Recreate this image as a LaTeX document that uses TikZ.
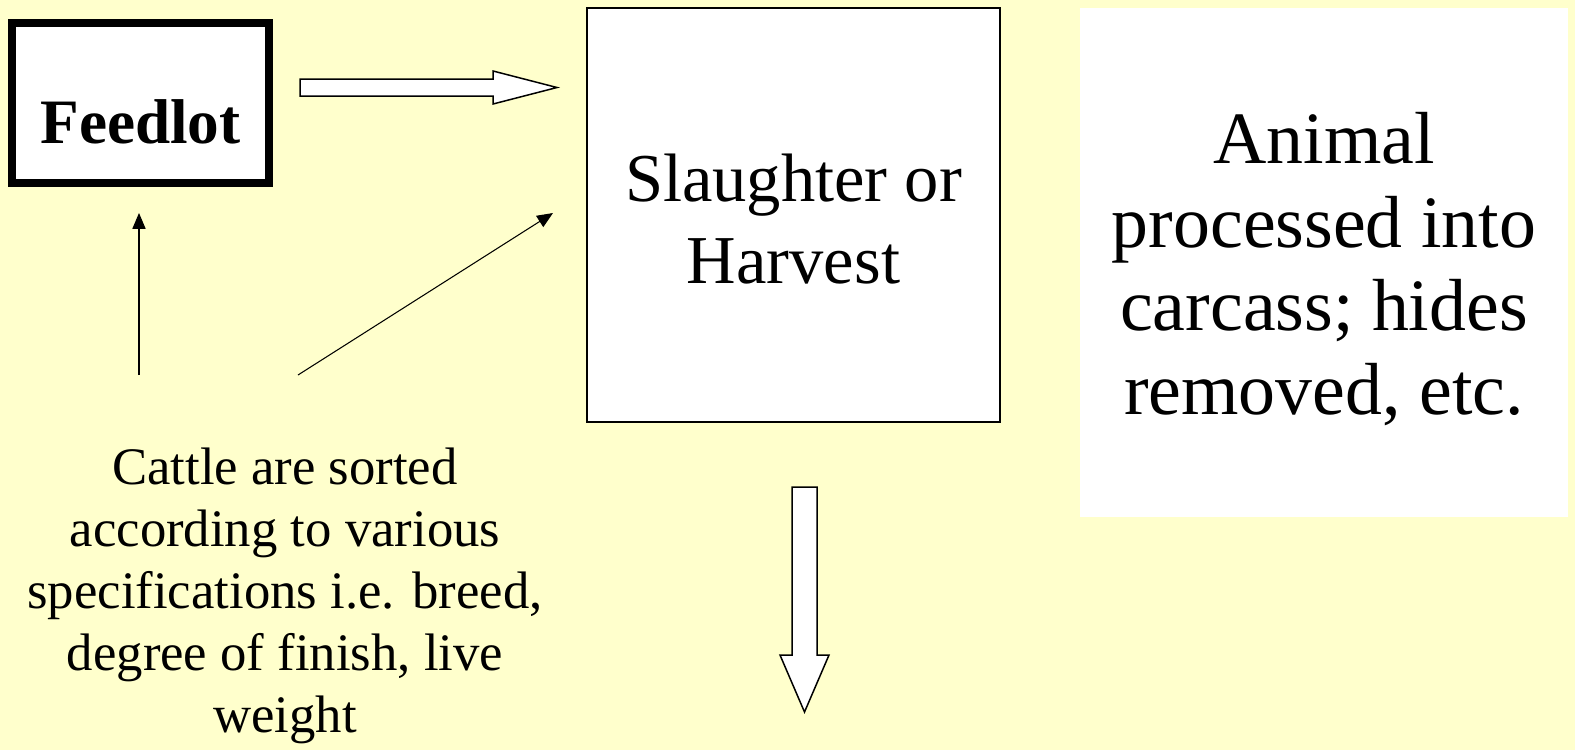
\documentclass[tikz,border=0pt]{standalone}
\usepackage{fontspec}
\setmainfont{Liberation Serif}
\usetikzlibrary{arrows.meta}
\definecolor{paleyellow}{HTML}{FFFFCC}

\begin{document}
\begin{tikzpicture}[
    stagebox/.style={draw, fill=white, line width=0.85pt, minimum width=8.26cm, minimum height=8.28cm, align=center, font=\fontsize{39}{46.5}\selectfont},
    lotbox/.style={draw, fill=white, line width=4.5pt, minimum width=5.13cm, minimum height=3.2cm, text height=1.6cm, text depth=0pt, font=\fontsize{36}{43}\selectfont\bfseries},
    notebox/.style={fill=white, minimum width=9.76cm, minimum height=10.18cm, align=center, font=\fontsize{42}{47.5}\selectfont},
    sortnote/.style={align=center, font=\fontsize{30}{35.2}\selectfont},
    thinarrow/.style={-{Triangle[length=9pt,width=7.5pt]}, line width=0.6pt},
    blockarrow/.style={draw, fill=white, line width=0.85pt, line join=miter}
  ]
      \fill[paleyellow] (0,0) rectangle (31.5,-15); % background
      \useasboundingbox (0,0) rectangle (31.5,-15);

      \node[lotbox] (feedlot) at (2.81,-2.06) {Feedlot}; % feedlot box
      \node[stagebox] (slaughter) at (15.87,-4.3) {\rule{0pt}{32pt}Slaughter or\\Harvest}; % slaughter box
      \node[notebox] (animal) at (26.48,-5.25) {\rule{0pt}{36.7pt}Animal\\processed into\\carcass; hides\\removed, etc.}; % right text
      \node[sortnote] (sorting) at (5.7,-11.92) {Cattle are sorted\\according to various\\specifications i.e. breed,\\degree of finish, live\\weight}; % sorting text

      % thin arrows
      \coordinate (upstart) at (2.78,-7.5);
      \coordinate (uptip) at (2.78,-4.26);
      \coordinate (diagstart) at (5.96,-7.5);
      \coordinate (diagtip) at (11.06,-4.26);
      \draw[thinarrow] (upstart) -- (uptip);
      \draw[thinarrow] (diagstart) -- (diagtip);

      % block arrow feedlot -> slaughter
      \coordinate (rightarr) at (6.0,-1.75);
      \draw[blockarrow] (rightarr) ++(0,0.17) -- ++(3.86,0) -- ++(0,0.16) -- ++(1.28,-0.33)
        -- ++(-1.28,-0.33) -- ++(0,0.16) -- ++(-3.86,0) -- cycle;

      % block arrow down from slaughter
      \coordinate (downarr) at (16.09,-9.74);
      \draw[blockarrow] (downarr) ++(-0.25,0) -- ++(0,-3.36) -- ++(-0.24,0) -- ++(0.49,-1.14)
        -- ++(0.49,1.14) -- ++(-0.24,0) -- ++(0,3.36) -- cycle;
\end{tikzpicture}
\end{document}
